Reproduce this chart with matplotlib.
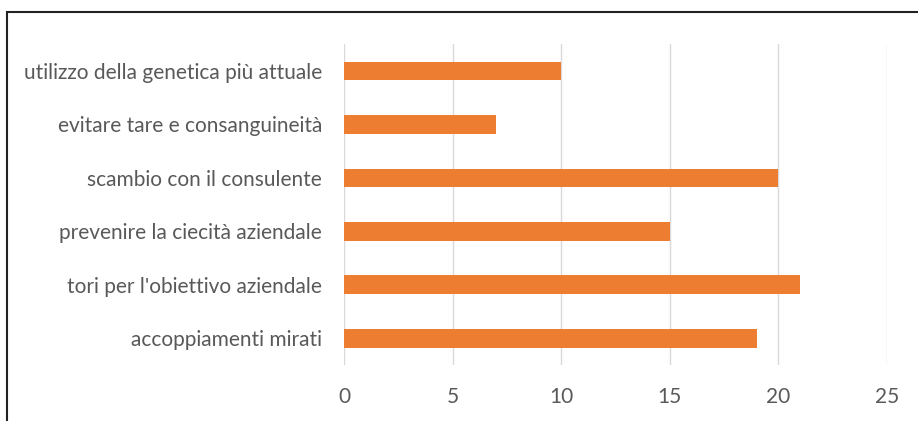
import matplotlib
matplotlib.use('Agg')
import matplotlib.pyplot as plt
from matplotlib.patches import Rectangle

categories = ['accoppiamenti mirati', "tori per l'obiettivo aziendale",
              'prevenire la ciecità aziendale', 'scambio con il consulente',
              'evitare tare e consanguineità', 'utilizzo della genetica più attuale']
values = [19, 21, 15, 20, 7, 10]
xticks = [0, 5, 10, 15, 20, 25]

plt.rcParams['font.family'] = ['Lato', 'DejaVu Sans']

fig = plt.figure(figsize=(9.18, 4.21), dpi=100)
ax = fig.add_axes([0.375, 0.133, 0.591, 0.762])

ax.barh(range(len(categories)), values, height=0.35, color='#ED7D31', zorder=3)

ax.set_xlim(0, 25)
ax.set_ylim(-0.5, len(categories) - 0.5)
ax.set_xticks(xticks)
ax.set_yticks(range(len(categories)))
ax.set_yticklabels(categories)
ax.grid(axis='x', color='#D9D9D9', linewidth=1, zorder=0)
for s in ax.spines.values():
    s.set_visible(False)
ax.tick_params(axis='both', length=0, colors='#595959', labelsize=15)
ax.tick_params(axis='y', pad=16)
ax.tick_params(axis='x', pad=16)

# cornice nera attorno al grafico
fig.patches.append(Rectangle((7 / 918, -0.1), 1.2, 1.1 - 12 / 421, transform=fig.transFigure,
                             fill=False, edgecolor='#222222', linewidth=1.5))

fig.savefig('out.png', dpi=100)
